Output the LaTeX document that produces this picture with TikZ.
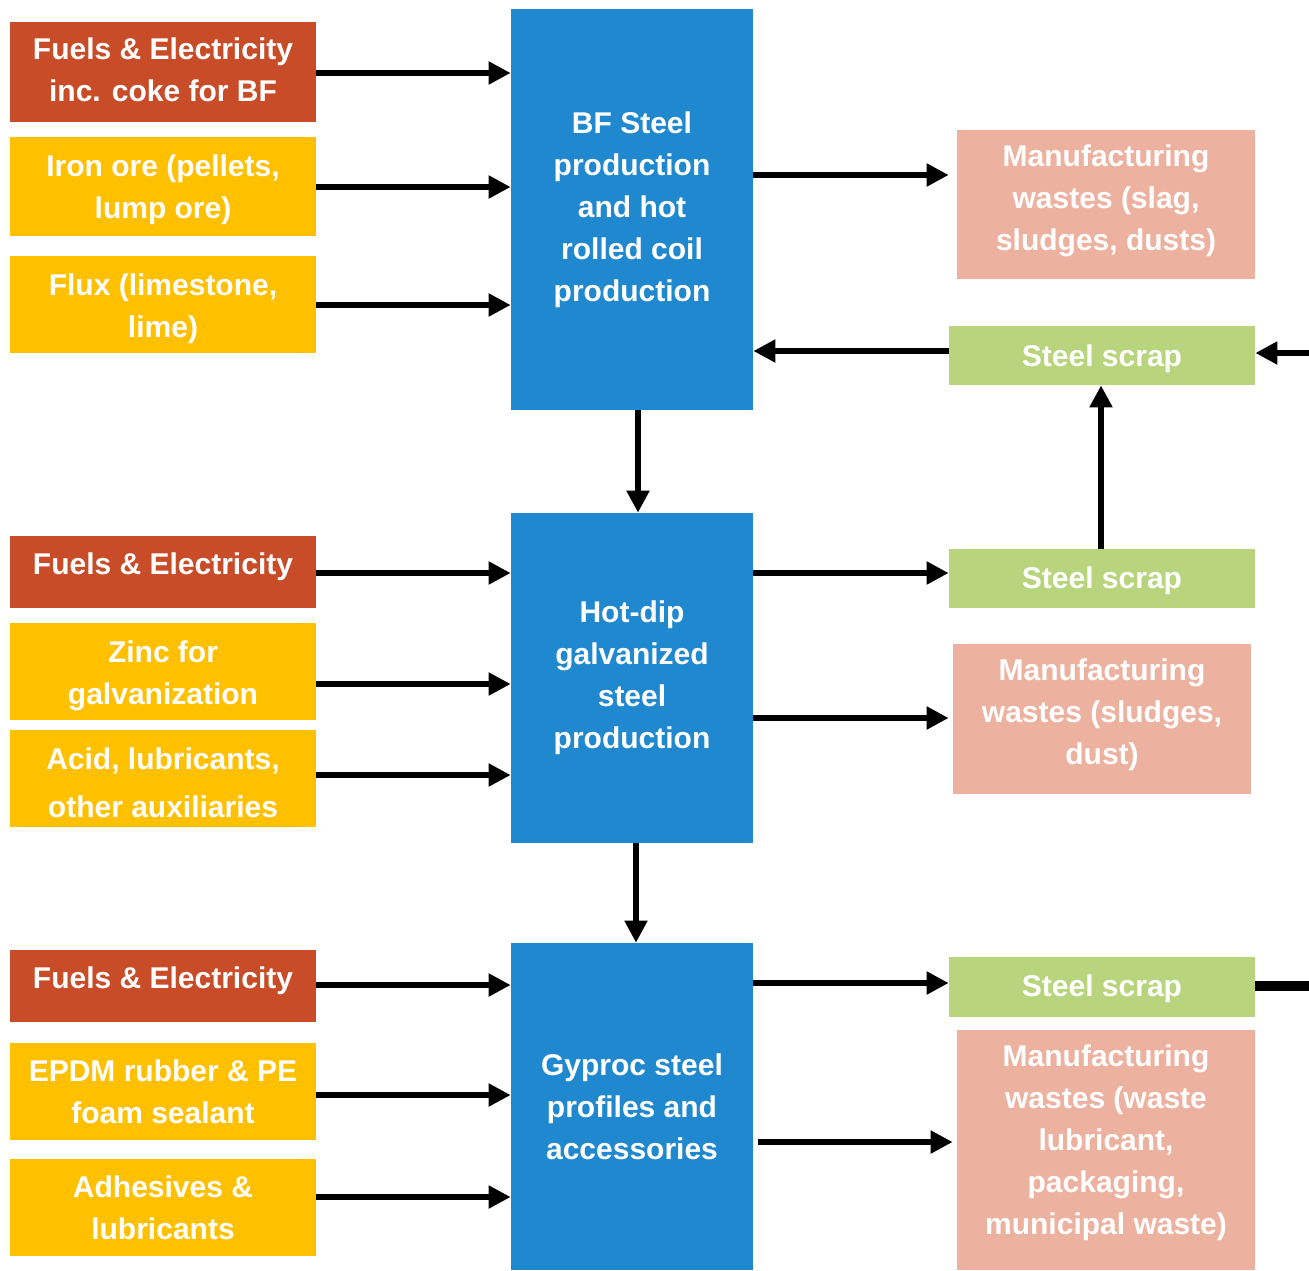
\documentclass[tikz,border=0pt]{standalone}
\usepackage{fontspec}
\setmainfont{Liberation Sans}
\usetikzlibrary{arrows.meta}
\definecolor{cred}{RGB}{200,76,40}
\definecolor{cyel}{RGB}{255,192,0}
\definecolor{cblue}{RGB}{31,136,207}
\definecolor{cpink}{RGB}{237,177,160}
\definecolor{cgreen}{RGB}{184,212,125}
\begin{document}
\begin{tikzpicture}[x=0.5pt,y=-0.5pt,
  base/.style={inner sep=0pt, text=white, align=center, font=\fontsize{15}{21}\selectfont\bfseries},
  tx/.style 2 args={label={[base,yshift=#1]center:{#2}}},
  redbox/.style={base, fill=cred, minimum width=153pt},
  yelbox/.style={base, fill=cyel, minimum width=153pt},
  bluebox/.style={base, fill=cblue, minimum width=121pt},
  pinkbox/.style={base, fill=cpink, minimum width=149pt},
  greenbox/.style={base, fill=cgreen, minimum width=153pt, minimum height=29.5pt},
  arr/.style={line width=2.6pt, -{Triangle[length=11pt,width=11pt]}},
  thick line/.style={line width=5pt}]
\useasboundingbox (0,0) rectangle (1309,1270);
% left inputs
\node[redbox, minimum height=50pt, tx={1pt}{Fuels \& Electricity\\inc. coke for BF}] (f1) at (163,72) {};
\node[yelbox, minimum height=49.5pt, tx={-1.5pt}{Iron ore (pellets,\\lump ore)}] (iron) at (163,186.5) {};
\node[yelbox, minimum height=48.5pt, tx={-2pt}{Flux (limestone,\\lime)}] (flux) at (163,304.5) {};
\node[redbox, minimum height=36pt, tx={2.5pt}{Fuels \& Electricity}] (f2) at (163,572) {};
\node[yelbox, minimum height=48.5pt, tx={-2pt}{Zinc for\\galvanization}] (zinc) at (163,671.5) {};
\node[yelbox, minimum height=48.5pt, tx={-2pt}{Acid, lubricants,\\[3pt]other auxiliaries}] (acid) at (163,778.5) {};
\node[redbox, minimum height=36pt, tx={2.5pt}{Fuels \& Electricity}] (f3) at (163,986) {};
\node[yelbox, minimum height=48.5pt, tx={0pt}{EPDM rubber \& PE\\foam sealant}] (epdm) at (163,1091.5) {};
\node[yelbox, minimum height=48.5pt, tx={0pt}{Adhesives \&\\lubricants}] (adh) at (163,1207.5) {};
% centre
\node[bluebox, minimum height=200.5pt] (bf) at (632,209.5) {BF Steel\\production\\and hot\\rolled coil\\production};
\node[bluebox, minimum height=165pt] (hd) at (632,678) {Hot-dip\\galvanized\\steel\\production};
\node[bluebox, minimum height=163.5pt] (gy) at (632,1106.5) {Gyproc steel\\profiles and\\accessories};
% right
\node[pinkbox, minimum height=74.5pt, tx={2pt}{Manufacturing\\wastes (slag,\\sludges, dusts)}] (m1) at (1106,204.5) {};
\node[greenbox, tx={-1.5pt}{Steel scrap}] (s1) at (1102,355.5) {};
\node[greenbox, tx={-1pt}{Steel scrap}] (s2) at (1102,578.5) {};
\node[pinkbox, minimum height=75pt, tx={2pt}{Manufacturing\\wastes (sludges,\\dust)}] (m2) at (1102,719) {};
\node[greenbox, minimum height=30pt, tx={-1pt}{Steel scrap}] (s3) at (1102,987) {};
\node[pinkbox, minimum height=120pt, tx={3.5pt}{Manufacturing\\wastes (waste\\lubricant,\\packaging,\\municipal waste)}] (m3) at (1106,1150) {};
\coordinate (re1) at (1309,353);
\coordinate (re3) at (1309,986);
% input arrows
\draw[arr] (f1.east |- 0,73) -- (bf.west |- 0,73);
\draw[arr] (iron.east |- 0,187) -- (bf.west |- 0,187);
\draw[arr] (flux.east |- 0,305) -- (bf.west |- 0,305);
\draw[arr] (f2.east |- 0,573) -- (hd.west |- 0,573);
\draw[arr] (zinc.east |- 0,684) -- (hd.west |- 0,684);
\draw[arr] (acid.east |- 0,775) -- (hd.west |- 0,775);
\draw[arr] (f3.east |- 0,985) -- (gy.west |- 0,985);
\draw[arr] (epdm.east |- 0,1095) -- (gy.west |- 0,1095);
\draw[arr] (adh.east |- 0,1197) -- (gy.west |- 0,1197);
% vertical flow
\draw[arr] (bf.south -| 638,0) -- (hd.north -| 638,0);
\draw[arr] (hd.south -| 636,0) -- (gy.north -| 636,0);
% outputs
\draw[arr, shorten >=4pt] (bf.east |- 0,175) -- (m1.west |- 0,175);
\draw[arr] (s1.west |- 0,351) -- (bf.east |- 0,351);
\draw[arr] (re1) -- (s1.east |- re1);
\draw[arr] (s2.north -| 1101,0) -- (s1.south -| 1101,0);
\draw[arr] (hd.east |- 0,573) -- (s2.west |- 0,573);
\draw[arr, shorten >=2pt] (hd.east |- 0,718) -- (m2.west |- 0,718);
\draw[arr] (gy.east |- 0,983) -- (s3.west |- 0,983);
\draw[arr, shorten <=2.5pt, shorten >=2pt] (gy.east |- 0,1142) -- (m3.west |- 0,1142);
\draw[thick line] (s3.east |- re3) -- (re3);
\end{tikzpicture}
\end{document}
